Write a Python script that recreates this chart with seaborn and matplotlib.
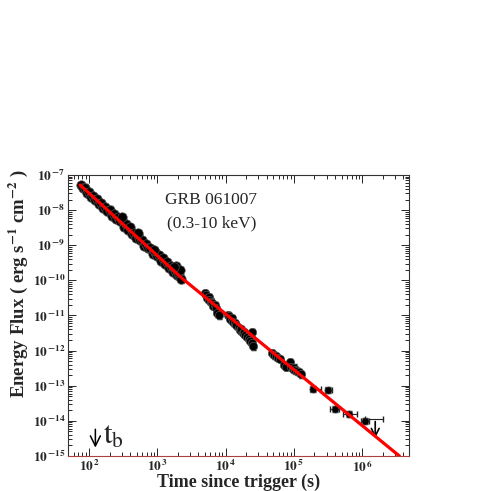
import math
import matplotlib
matplotlib.use("Agg")
import matplotlib.pyplot as plt
import matplotlib.ticker as mticker
import matplotlib.transforms as mtransforms
import seaborn as sns

# early, densely sampled light curve (s, erg s^-1 cm^-2)
t_early = [76, 81, 87, 93, 100, 107, 115, 123, 132, 141,
           151, 162, 174, 186, 200, 214, 229, 245, 263, 282,
           302, 324, 347, 372, 398, 427, 457, 490, 525, 562,
           603, 646, 692, 741, 794, 851, 912, 977, 1047, 1122,
           1202, 1288, 1380, 1479, 1585, 1698, 1820, 1950, 2089, 2239,
           1905, 2042, 2138, 1750, 300, 520, 880]
f_early = [5.2e-8, 4.2e-8, 4.4e-8, 3.0e-8, 3.2e-8, 2.3e-8, 2.6e-8, 1.95e-8, 2.1e-8, 1.48e-8,
           1.55e-8, 1.13e-8, 1.26e-8, 9.5e-9, 1.04e-8, 6.9e-9, 7.6e-9, 5.7e-9, 6.5e-9, 4.8e-9,
           5.3e-9, 3.4e-9, 4.0e-9, 2.8e-9, 3.2e-9, 2.04e-9, 2.3e-9, 1.66e-9, 1.9e-9, 1.39e-9,
           1.45e-9, 9.8e-10, 1.1e-9, 8.1e-10, 8.5e-10, 5.8e-10, 6.5e-10, 5.0e-10, 5.2e-10, 3.6e-10,
           4.2e-10, 2.9e-10, 3.4e-10, 2.3e-10, 2.6e-10, 1.74e-10, 1.93e-10, 1.39e-10, 1.41e-10, 1.11e-10,
           2.6e-10, 1.78e-10, 1.95e-10, 2.4e-10, 6.4e-9, 2.3e-9, 7.4e-10]

# later orbits
t_late = [5010, 5250, 5370, 5620, 5750, 6030, 6310, 6610, 6920, 7240, 7590, 7940,
          10700, 11200, 11750, 12300, 12900, 13500, 14100,
          15500, 16200, 17000, 17800, 18600, 19500, 20400, 21900, 22900, 24000, 24500, 25100,
          47900, 51300, 55000, 58900, 63100,
          72400, 77600, 87100, 91200, 95500, 100000, 104700, 109600, 117500, 125900]
f_late = [4.4e-11, 3.8e-11, 3.2e-11, 3.4e-11, 2.75e-11, 2.5e-11, 2.2e-11, 1.9e-11, 2.0e-11, 1.6e-11, 1.2e-11, 1.05e-11,
          1.05e-11, 9.5e-12, 7.9e-12, 8.3e-12, 6.6e-12, 6.0e-12, 5.2e-12,
          4.4e-12, 3.8e-12, 4.0e-12, 3.2e-12, 3.4e-12, 2.75e-12, 2.5e-12, 2.2e-12, 1.9e-12, 3.3e-12, 1.6e-12, 1.35e-12,
          8.3e-13, 7.6e-13, 7.1e-13, 6.3e-13, 5.9e-13,
          4.0e-13, 3.5e-13, 4.6e-13, 3.5e-13, 3.0e-13, 3.3e-13, 2.8e-13, 2.6e-13, 2.4e-13, 2.2e-13]
rel_err = 0.22

# sparse late points with time bins
t_sparse = [1.9e5, 3.2e5, 4.0e5, 6.5e5, 1.1e6]
t_sparse_lo = [1.72e5, 2.85e5, 3.4e5, 5.2e5, 9.5e5]
t_sparse_hi = [2.5e5, 3.6e5, 4.6e5, 8.3e5, 1.26e6]
f_sparse = [8.2e-14, 7.7e-14, 2.2e-14, 1.6e-14, 1.0e-14]
f_sparse_lo = [6.5e-14, 6.3e-14, 1.75e-14, 1.3e-14, 8.3e-15]
f_sparse_hi = [1.0e-13, 9.3e-14, 2.7e-14, 1.95e-14, 1.2e-14]

# upper limit
t_ul, t_ul_lo, t_ul_hi = 1.55e6, 1.1e6, 2.0e6
f_ul, f_ul_arrow = 1.15e-14, 2.7e-15

# fitted model
t_fit = [74, 2300, 3.5e6]
f_fit = [5.2e-8, 1.15e-10, 1.0e-15]

t_break = 124

sns.set_theme(style="ticks")
plt.rcParams["font.family"] = ["Liberation Serif", "DejaVu Serif"]
plt.rcParams["mathtext.fontset"] = "stix"

fig = plt.figure(figsize=(4.91, 4.91), dpi=100)
ax = fig.add_axes([0.1385, 0.0713, 0.6945, 0.5723])
ax.set_xscale("log")
ax.set_yscale("log")

t_all = t_early + t_late
f_all = f_early + f_late
ax.errorbar(t_all, f_all, yerr=[[v * rel_err for v in f_all], [v * rel_err for v in f_all]],
            fmt="none", ecolor="black", elinewidth=0.8, capsize=1.8, zorder=2)
sns.scatterplot(x=t_early, y=f_early, color="black", s=46, edgecolor="#555555",
                linewidth=0.5, ax=ax, zorder=3)
sns.scatterplot(x=t_late, y=f_late, color="black", s=36, edgecolor="#555555",
                linewidth=0.5, ax=ax, zorder=3)

xerr = [[t - lo for t, lo in zip(t_sparse, t_sparse_lo)],
        [hi - t for t, hi in zip(t_sparse, t_sparse_hi)]]
yerr = [[f - lo for f, lo in zip(f_sparse, f_sparse_lo)],
        [hi - f for f, hi in zip(f_sparse, f_sparse_hi)]]
ax.errorbar(t_sparse, f_sparse, xerr=xerr, yerr=yerr, fmt="none", ecolor="#222222",
            elinewidth=0.8, capsize=2.5, zorder=2)
sns.scatterplot(x=t_sparse, y=f_sparse, color="black", s=26, edgecolor="#555555",
                linewidth=0.4, ax=ax, zorder=3)

# upper limit
ax.errorbar([t_ul], [f_ul], xerr=[[t_ul - t_ul_lo], [t_ul_hi - t_ul]], fmt="none",
            ecolor="#222222", elinewidth=0.8, capsize=2.5, zorder=2)
ax.annotate("", xy=(t_ul, f_ul_arrow), xytext=(t_ul, f_ul),
            arrowprops=dict(arrowstyle="->", color="black", lw=1.2, mutation_scale=14),
            zorder=4)

sns.lineplot(x=t_fit, y=f_fit, color="red", lw=2.3, ax=ax, zorder=5, sort=False)

ax.set_xlim(49.3, 4.84e6)
ax.set_ylim(1e-15, 1e-7)
ax.set_xlabel("")
ax.set_ylabel("")

fmt = mticker.FuncFormatter(lambda v, p: r"$\mathbf{10}^{\,\mathbf{%d}}$" % round(math.log10(v)))
for axis in (ax.xaxis, ax.yaxis):
    axis.set_major_locator(mticker.LogLocator(base=10, numticks=20))
    axis.set_minor_locator(mticker.LogLocator(base=10, subs=range(2, 10), numticks=100))
    axis.set_major_formatter(fmt)
    axis.set_minor_formatter(mticker.NullFormatter())
ax.tick_params(which="both", direction="in", top=True, right=True, labelsize=9.5, width=0.7)
ax.tick_params(which="major", length=6)
ax.tick_params(which="minor", length=3)
ax.tick_params(axis="x", pad=2)
ax.tick_params(axis="y", pad=2)
for s in ax.spines.values():
    s.set_linewidth(0.8)
    s.set_color("#333333")
ax.spines["bottom"].set_color("#b04040")

ax.text(0.42, 0.911, "GRB 061007", transform=ax.transAxes, ha="center", va="center", fontsize=12.5)
ax.text(0.42, 0.829, "(0.3-10 keV)", transform=ax.transAxes, ha="center", va="center", fontsize=12.5)

# break time marker
trans = mtransforms.blended_transform_factory(ax.transData, ax.transAxes)
ax.annotate("", xy=(t_break, 0.02), xytext=(t_break, 0.105), xycoords=trans, textcoords=trans,
            arrowprops=dict(arrowstyle="->", color="black", lw=1.1, mutation_scale=18))
ax.text(t_break * 1.3, 0.02, r"$\mathrm{t_b}$", transform=trans, ha="left", va="bottom",
        fontsize=22)

fig.text(18 / 491, 1 - 283 / 491, r"Energy Flux ( erg s$^{\mathbf{-1}}$ cm$^{\mathbf{-2}}$ )",
         rotation=90, ha="center", va="center", fontsize=13.5, fontweight="bold")
fig.text(239 / 491, 1 - 482 / 491, "Time since trigger (s)", ha="center", va="center",
         fontsize=13, fontweight="bold")

fig.savefig("out.png", dpi=100)
